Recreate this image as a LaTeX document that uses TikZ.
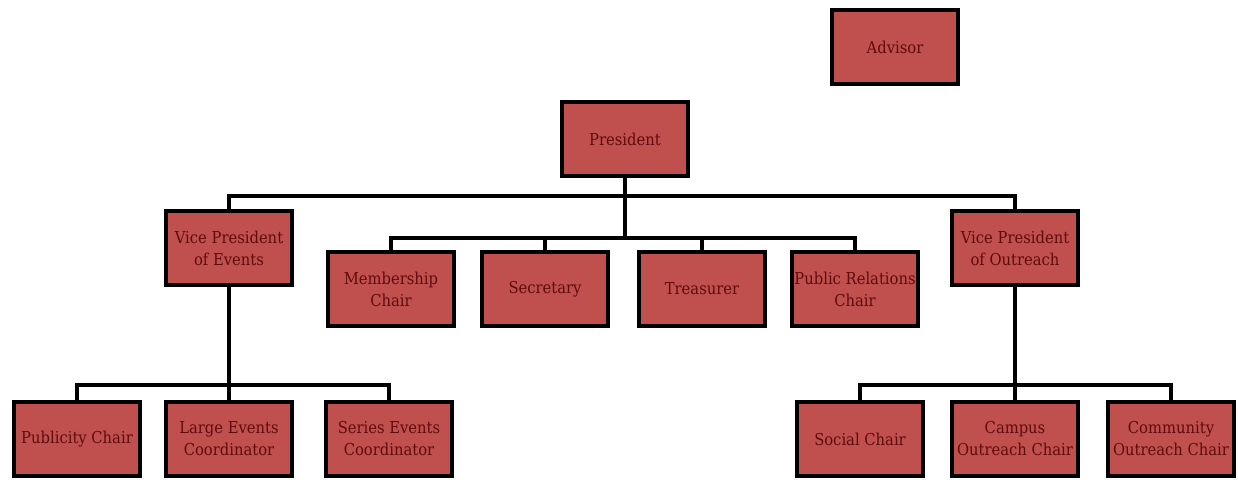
\documentclass[tikz,border=0pt]{standalone}
\usepackage{fontspec}
\setmainfont{DejaVu Serif Condensed}
\definecolor{boxred}{RGB}{192,80,77}
\definecolor{textred}{RGB}{95,12,12}
\tikzset{every picture/.style={line width=0.75pt}}
\tikzset{
  post/.style={draw=black, line width=3pt, fill=boxred, text=textred,
    minimum width=94pt, minimum height=55pt, align=center,
    font=\fontsize{12.3}{16.5}\selectfont, inner sep=0pt},
  link/.style={line width=3.3pt, line cap=rect}
}

\begin{document}
\begin{tikzpicture}[x=0.75pt,y=0.75pt,yscale=-1,xscale=1]
	\useasboundingbox (0,0) rectangle (1238,479);

	% top
	\node [post] (advisor) at (895,47) {Advisor};
	\node [post] (pres) at (625,139) {President};
	% second row
	\node [post] (vpe) at (229,248) {Vice President\\of Events};
	\node [post] (vpo) at (1015,248) {Vice President\\of Outreach};
	\node [post] (member) at (391,289) {Membership\\Chair};
	\node [post] (secr) at (545,289) {Secretary};
	\node [post] (treas) at (702,289) {Treasurer};
	\node [post] (pr) at (855,289) {Public Relations\\Chair};
	% bottom left
	\node [post] (publ) at (77,439) {Publicity Chair};
	\node [post] (large) at (229,439) {Large Events\\Coordinator};
	\node [post] (series) at (389,439) {Series Events\\Coordinator};
	% bottom right
	\node [post] (social) at (860,439) {Social Chair};
	\node [post] (campus) at (1015,439) {Campus\\Outreach Chair};
	\node [post] (commun) at (1171,439) {Community\\Outreach Chair};

	% bus points
	\coordinate (topbus) at (625,196);
	\coordinate (midbus) at (625,238);
	\coordinate (leftbus) at (229,385);
	\coordinate (rightbus) at (1015,385);

	% connectors
	\draw [link] (pres.south) -- (topbus) -| (vpe.north);
	\draw [link] (topbus) -| (vpo.north);
	\draw [link] (topbus) -- (midbus) -| (member.north);
	\draw [link] (midbus) -| (secr.north);
	\draw [link] (midbus) -| (treas.north);
	\draw [link] (midbus) -| (pr.north);
	\draw [link] (vpe.south) -- (large.north);
	\draw [link] (leftbus) -| (publ.north);
	\draw [link] (leftbus) -| (series.north);
	\draw [link] (vpo.south) -- (campus.north);
	\draw [link] (rightbus) -| (social.north);
	\draw [link] (rightbus) -| (commun.north);

\end{tikzpicture}
\end{document}
